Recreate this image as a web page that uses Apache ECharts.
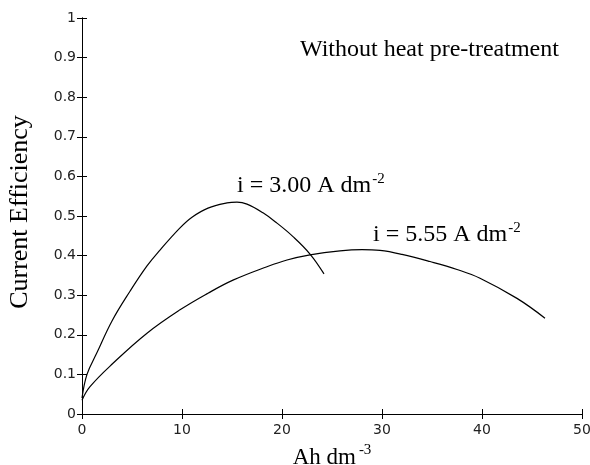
<!DOCTYPE html>
<html>
<head>
<meta charset="utf-8">
<script src="https://cdn.jsdelivr.net/npm/echarts@6/dist/echarts.min.js"></script>
<style>
  html, body { margin: 0; padding: 0; background: #fff; }
  #chart { width: 590px; height: 465px; }
</style>
</head>
<body>
<div id="chart"></div>
<script>
// i = 3.00 A dm-2
var ahLow = [0, 0.5, 1.5, 3, 4.8, 6.5, 7.8, 9.8, 11, 12.6, 14.5, 15.5, 16.5, 18.1, 19.5, 21.1, 22.8, 24.2];
var effLow = [0.04, 0.10, 0.155, 0.235, 0.31, 0.374, 0.414, 0.47, 0.497, 0.52, 0.533, 0.535, 0.53, 0.508, 0.482, 0.448, 0.404, 0.354];
// i = 5.55 A dm-2
var ahHigh = [0, 0.8, 3.1, 6.5, 9.8, 12.6, 15.1, 18.5, 20.5, 22.8, 25.8, 28, 29.8, 32, 34.8, 37.5, 39.8, 43.5, 46.3];
var effHigh = [0.035, 0.069, 0.128, 0.204, 0.263, 0.305, 0.338, 0.372, 0.389, 0.402, 0.412, 0.415, 0.413, 0.403, 0.385, 0.365, 0.343, 0.292, 0.242];

var seriesNames = ["i = 3.00 A dm-2", "i = 5.55 A dm-2"];

function pairs(xs, ys) {
    return xs.map(function (x, i) { return [x, ys[i]]; });
}

var serif = "Liberation Serif";
var sans = "DejaVu Sans";

var chart = echarts.init(document.getElementById("chart"));

var tickStyle = { show: true, inside: true, length: 5, lineStyle: { color: "#000", width: 1 } };
var lineStyle = { lineStyle: { color: "#000", width: 1 } };
var supStyle = { fontSize: 15, fontFamily: serif, verticalAlign: "top", padding: [0, 0, 13, 1] };

var option = {
    animation: false,
    grid: { left: 82, right: 8, top: 18, bottom: 51, outerBoundsMode: "none" },
    xAxis: [
        {
            type: "value", min: 0, max: 50, interval: 10,
            axisLine: lineStyle, axisTick: tickStyle, splitLine: { show: false },
            axisLabel: { color: "#222", fontFamily: sans, fontSize: 14, margin: 9 },
            name: "Ah dm{sup|-3}", nameLocation: "middle", nameGap: 29,
            nameTextStyle: {
                color: "#000", fontFamily: serif, fontSize: 23,
                rich: { sup: { fontFamily: serif, fontSize: 15, verticalAlign: "top", padding: [0, 0, 14, 3] } }
            }
        },
        {
            type: "value", min: 0, max: 50, interval: 10, position: "top",
            axisLine: lineStyle, axisTick: tickStyle, splitLine: { show: false },
            axisLabel: { show: false }
        }
    ],
    yAxis: [
        {
            type: "value", min: 0, max: 1, interval: 0.1,
            axisLine: lineStyle, axisTick: tickStyle, splitLine: { show: false },
            axisLabel: { color: "#222", fontFamily: sans, fontSize: 14, margin: 6 },
            name: "Current Efficiency", nameLocation: "middle", nameGap: 49,
            nameTextStyle: { color: "#000", fontFamily: serif, fontSize: 26, padding: [0, 0, 0, 8] }
        },
        {
            type: "value", min: 0, max: 1, interval: 0.1, position: "right",
            axisLine: lineStyle, axisTick: tickStyle, splitLine: { show: false },
            axisLabel: { show: false }
        }
    ],
    graphic: [
        {
            type: "text", left: 300, top: 38,
            style: { text: "Without heat pre-treatment", fill: "#000", font: "24px " + serif }
        },
        {
            type: "text", left: 237, top: 172,
            style: { text: "i = 3.00 A dm{sup|-2}", fill: "#000", font: "24px " + serif, rich: { sup: supStyle } }
        },
        {
            type: "text", left: 373, top: 221,
            style: { text: "i = 5.55 A dm{sup|-2}", fill: "#000", font: "24px " + serif, rich: { sup: supStyle } }
        }
    ],
    series: [
        {
            name: seriesNames[0], type: "line", smooth: 0.4, showSymbol: false,
            lineStyle: { color: "#000", width: 1.2 },
            data: pairs(ahLow, effLow)
        },
        {
            name: seriesNames[1], type: "line", smooth: 0.4, showSymbol: false,
            lineStyle: { color: "#000", width: 1.2 },
            data: pairs(ahHigh, effHigh)
        }
    ]
};
chart.setOption(option, true);
</script>
</body>
</html>
